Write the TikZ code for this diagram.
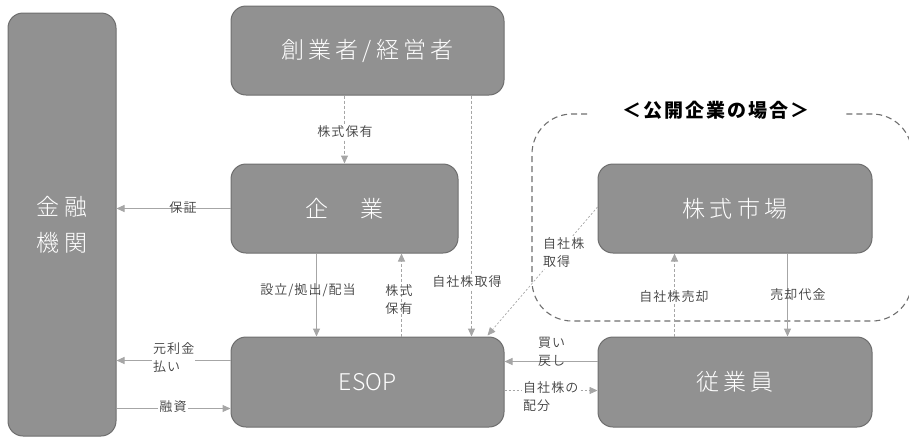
\documentclass[tikz,border=0pt]{standalone}
\usepackage{fontspec}
\setmainfont{Noto Sans CJK JP}
\newfontfamily\boxfont[LetterSpace=18]{Noto Sans CJK JP Light}
\newfontfamily\latinbox{Noto Sans CJK JP Light}
\newfontfamily\labfont[LetterSpace=8]{Noto Sans CJK JP DemiLight}
\newfontfamily\titlefont[LetterSpace=10]{Noto Sans CJK JP}
\usetikzlibrary{arrows.meta,calc}
\definecolor{boxfill}{HTML}{919191}
\definecolor{boxdraw}{HTML}{6E6E6E}
\definecolor{linec}{HTML}{A6A6A6}
\definecolor{labc}{HTML}{404040}
\definecolor{regc}{HTML}{6F6F6F}
\begin{document}
\begin{tikzpicture}[x=1pt,y=-1pt,
  box/.style={draw=boxdraw, line width=1pt, fill=boxfill, rounded corners=15pt,
    text=white, font=\boxfont\fontsize{23}{36}\selectfont, inner sep=0pt, align=center},
  lab/.style={text=labc, font=\labfont\fontsize{13}{18}\selectfont, inner sep=1pt, align=left},
  conn/.style={draw=linec, line width=1pt, -{Triangle[length=8pt,width=7pt]}},
  dsh/.style={conn, dash pattern=on 3pt off 2pt},
  dotl/.style={conn, line width=0.7pt, dash pattern=on 2pt off 2pt},
  region/.style={draw=regc, line width=1.1pt, dash pattern=on 6pt off 4pt, rounded corners=40pt}
]
\useasboundingbox (0,0) rectangle (909,437);

% boxes
\node[box, minimum width=108, minimum height=423] (kin) at (62,224.5) {金融\\機関};
\node[box, minimum width=273, minimum height=89] (sogyo) at (367.5,50.5) {創業者/経営者};
\node[box, minimum width=227, minimum height=89] (kigyo) at (344.5,208.5) {企　業};
\node[box, minimum width=273, minimum height=90, font=\latinbox\fontsize{23}{36}\selectfont] (esop) at (367.5,382) {ESOP};
\node[box, minimum width=274, minimum height=89] (market) at (735,208.5) {株式市場};
\node[box, minimum width=274, minimum height=90] (jugyo) at (735,382) {従業員};

% public company region
\draw[region] (587,114) -- (532,114) -- (532,321) -- (912,321) -- (912,114) -- (845,114);
\node[font=\titlefont\bfseries\fontsize{19}{22}\selectfont, text=black] (title) at (716,110) {＜公開企業の場合＞};

% connectors
\draw[dsh] ($(sogyo.south west)+(114,0)$) -- ($(kigyo.north west)+(114,0)$);
\node[lab, fill=white] (l1) at (345,132) {株式保有};

\draw[conn] (kigyo.west) -- (kigyo.west -| kin.east);
\node[lab] (l2) at (183,208) {保証};

\draw[conn] ($(kigyo.south west)+(86,0)$) -- ($(esop.north west)+(86,0)$);
\node[lab] (l3) at (308,290) {設立/拠出/配当};

\draw[dsh] ($(esop.north west)+(171,0)$) -- ($(kigyo.south west)+(171,0)$);
\node[lab] (l4) at (399,300) {株式\\保有};

\draw[dsh] ($(sogyo.south west)+(241,0)$) -- ($(esop.north west)+(241,0)$);
\node[lab, fill=white] (l5) at (467,282) {自社株取得};

\draw[dotl] ($(market.west)+(0,-1.5)$) -- ($(esop.north east)+(-17,-1)$);
\node[lab, fill=white, anchor=west] (l6) at (542,253) {自社株\\取得};

\draw[dsh] ($(jugyo.north west)+(77,0)$) -- ($(market.south west)+(77,0)$);
\node[lab, fill=white] (l7) at (674,297) {自社株売却};

\draw[conn] ($(market.south west)+(190,0)$) -- ($(jugyo.north west)+(190,0)$);
\node[lab] (l8) at (798,295) {売却代金};

\draw[conn] ($(jugyo.north west)+(0,25)$) -- ($(esop.north east)+(0,25)$);
\node[lab, anchor=west] (l9) at (537,352) {買い\\戻し};

\draw[dotl] ($(esop.north east)+(0,54)$) -- ($(jugyo.north west)+(0,54)$);
\node[lab, fill=white, anchor=west] (l10) at (522,397) {自社株の\\配分};

\draw[conn] ($(esop.north west)+(0,24)$) -- ($(esop.north west -| kin.east)+(0,24)$);
\node[lab, fill=white, anchor=west] (l11) at (152,358) {元利金\\払い};

\draw[conn] ($(kin.north east)+(0,396)$) -- ($(kin.north east -| esop.west)+(0,396)$);
\node[lab, fill=white] (l12) at (173,407) {融資};
\end{tikzpicture}
\end{document}
